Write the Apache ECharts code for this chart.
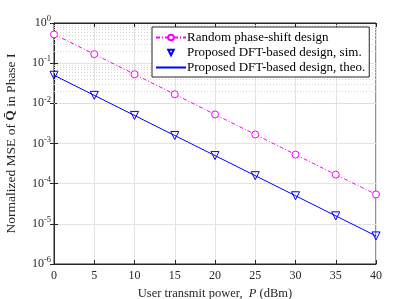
<!DOCTYPE html>
<html><head><meta charset="utf-8">
<script src="https://cdn.jsdelivr.net/npm/echarts@6/dist/echarts.min.js"></script>
<style>html,body{margin:0;padding:0;background:#fff}#c{width:415px;height:299px}</style>
</head><body><div id="c"></div>
<script>
const powerDbm = [0, 5, 10, 15, 20, 25, 30, 35, 40];
const randomPhase = [0.52, 0.168, 0.053, 0.0168, 0.0053, 0.00168, 0.00053, 0.000168, 0.000054];
const dftSim = [0.05, 0.0158, 0.005, 0.00158, 0.0005, 0.000158, 0.00005, 0.0000158, 0.000005];
const dftTheo = [0.05, 0.0158, 0.005, 0.00158, 0.0005, 0.000158, 0.00005, 0.0000158, 0.000005];
const seriesNames = ['Random phase-shift design', 'Proposed DFT-based design, sim.', 'Proposed DFT-based design, theo.'];
const yMin = 1e-6, yMax = 1;

const F = 'Liberation Serif';
const minorVals = [];
for (let e = -6; e < 0; e++) for (let m = 2; m <= 9; m++) minorVals.push(m * Math.pow(10, e));

const chart = echarts.init(document.getElementById('c'), null, {renderer: 'canvas'});
const supFmt = v => { const e = Math.round(Math.log10(v)); return '{b|10}{s|' + e + '}'; };
const gridColor = '#e3e3e3';
chart.setOption({
  animation: false,
  textStyle: {fontFamily: F},
  grid: {left: 54, right: 39, top: 23, bottom: 35, show: true, borderColor: '#262626', borderWidth: 1, backgroundColor: '#fff', containLabel: false, outerBoundsMode: 'none'},
  legend: {
    z: 20,
    orient: 'vertical', left: 152, top: 27, width: 220,
    backgroundColor: '#fff', borderColor: '#262626', borderWidth: 1, borderRadius: 0,
    padding: [4, 4, 3, 3], itemGap: 2, itemWidth: 30, itemHeight: 7,
    textStyle: {fontFamily: F, fontSize: 13, color: '#000', padding: [0, 0, 0, -4]},
    data: [
      {name: seriesNames[0]},
      {name: seriesNames[1]},
      {name: seriesNames[2], itemStyle: {color: 'rgba(0,0,0,0)', borderColor: 'rgba(0,0,0,0)', opacity: 0}}
    ]
  },
  xAxis: [{
    type: 'value', min: 0, max: 40, interval: 5,
    name: '{n|User transmit power,  }{i|P}{n| (dBm)}', nameLocation: 'middle', nameGap: 20,
    nameTextStyle: {rich: {n: {fontFamily: F, fontSize: 12.5, color: '#262626'}, i: {fontFamily: F, fontSize: 12.5, fontStyle: 'italic', color: '#262626'}}},
    axisLine: {show: true, lineStyle: {color: '#262626'}},
    axisTick: {inside: true, length: 4, lineStyle: {color: '#262626'}},
    axisLabel: {margin: 6, fontFamily: F, fontSize: 12, color: '#262626'},
    splitLine: {show: true, lineStyle: {color: gridColor, width: 1}}
  }, {
    type: 'value', min: 0, max: 40, interval: 5, position: 'top',
    axisLine: {show: true, lineStyle: {color: '#262626'}},
    axisTick: {inside: true, length: 4, lineStyle: {color: '#262626'}},
    axisLabel: {show: false}, splitLine: {show: false}
  }],
  yAxis: [{
    type: 'log', min: yMin, max: yMax, logBase: 10,
    name: '{n|Normalized MSE of }{q|Q\u0304}{n| in Phase I}', nameLocation: 'middle', nameGap: 36, nameRotate: 90,
    nameTextStyle: {rich: {n: {fontFamily: F, fontSize: 13.5, color: '#262626'}, q: {fontFamily: F, fontSize: 13.5, fontWeight: 'bold', color: '#262626'}}},
    axisLine: {show: true, lineStyle: {color: '#262626'}},
    axisTick: {inside: true, length: 4, lineStyle: {color: '#262626'}},
    axisLabel: {margin: 3, formatter: supFmt, rich: {b: {fontFamily: F, fontSize: 12, color: '#262626'}, s: {fontFamily: F, fontSize: 8.5, color: '#262626', padding: [0, 0, 8, 0]}}},
    splitLine: {show: true, lineStyle: {color: gridColor, width: 1}}
  }, {
    type: 'log', min: yMin, max: yMax, logBase: 10, position: 'right',
    axisLine: {show: true, lineStyle: {color: '#262626'}},
    axisTick: {inside: true, length: 4, lineStyle: {color: '#262626'}},
    axisLabel: {show: false}, splitLine: {show: false}
  }],
  series: [
    {
      name: 'minor', type: 'line', data: [], xAxisIndex: 0, yAxisIndex: 0, z: 1, silent: true,
      markLine: {z: 1, silent: true, symbol: 'none', label: {show: false}, animation: false,
        lineStyle: {color: '#d6d6d6', type: [1, 2], width: 1},
        data: minorVals.map(v => ({yAxis: v}))}
    },
    {
      name: seriesNames[0], type: 'line', z: 3,
      data: powerDbm.map((x, i) => [x, randomPhase[i]]),
      symbol: 'circle', symbolSize: 7, showSymbol: true,
      itemStyle: {color: '#fff', borderColor: '#ff00ff', borderWidth: 1},
      lineStyle: {color: '#ff00ff', width: 1, type: [4, 2, 1, 2]}
    },
    {
      name: seriesNames[1], type: 'line', z: 4,
      data: powerDbm.map((x, i) => [x, dftSim[i]]),
      symbol: 'triangle', symbolRotate: 180, symbolSize: 8, showSymbol: true,
      itemStyle: {color: 'rgba(255,255,255,0)', borderColor: '#0000ff', borderWidth: 1},
      lineStyle: {width: 0, opacity: 0}
    },
    {
      name: seriesNames[2], type: 'line', z: 3,
      data: powerDbm.map((x, i) => [x, dftTheo[i]]),
      symbol: 'none', showSymbol: false,
      itemStyle: {color: '#0000ff'},
      lineStyle: {color: '#0000ff', width: 1}
    }
  ]
});
</script></body></html>
